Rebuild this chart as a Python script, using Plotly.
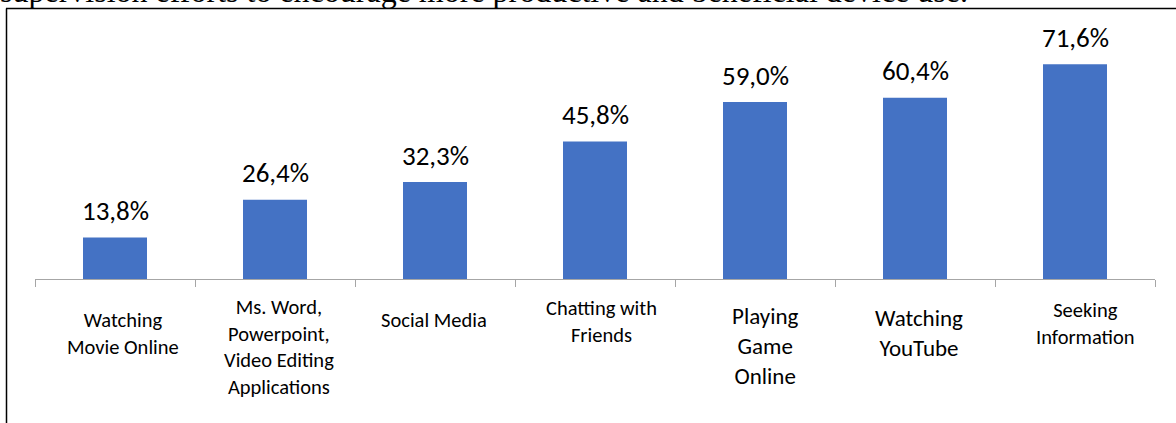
import plotly.graph_objects as go

# Activities and share of respondents (%)
categories = [
    "Watching<br>Movie Online",
    "Ms. Word,<br>Powerpoint,<br>Video Editing<br>Applications",
    "Social Media",
    "Chatting with<br>Friends",
    "Playing<br>Game<br>Online",
    "Watching<br>YouTube",
    "Seeking<br>Information",
]
values = [13.8, 26.4, 32.3, 45.8, 59.0, 60.4, 71.6]

# per-category label styling
label_sizes = [20.5, 20.5, 20.5, 20.5, 23, 23, 20.5]
label_centers_px = [333, 347, 320, 321, 346, 333, 323]
label_xshift_px = [7.5, 4, -1, 6, 10, 4, 10]

caption = "supervision efforts to encourage more productive and beneficial device use."

W, H = 1176, 423
FONT = "Calibri, Carlito, Lato, sans-serif"
BLUE = "#4472C4"

x_pos = list(range(len(categories)))

fig = go.Figure(
    go.Bar(
        x=x_pos,
        y=values,
        width=0.4,
        marker=dict(color=BLUE, line=dict(width=0)),
        hoverinfo="skip",
    )
)

# value labels above the bars
for xi, v in zip(x_pos, values):
    fig.add_annotation(
        x=xi, y=v, xref="x", yref="y",
        text=f"{v:.1f}%".replace(".", ","),
        showarrow=False, yanchor="middle", yshift=27,
        font=dict(family=FONT, size=27, color="#000000"),
    )

# category labels under the axis
for xi, lab, sz, cy, dx in zip(x_pos, categories, label_sizes, label_centers_px, label_xshift_px):
    fig.add_annotation(
        x=xi, y=(H - cy) / H, xref="x", yref="paper",
        text=lab, showarrow=False, yanchor="middle", xanchor="center",
        align="center", xshift=dx,
        font=dict(family=FONT, size=sz, color="#000000"),
    )

# running text of the page above the frame
fig.add_annotation(
    x=0, y=1, xref="paper", yref="paper",
    xanchor="left", yanchor="bottom", yshift=-11, xshift=-2,
    text=caption, showarrow=False,
    font=dict(family="Liberation Serif, Times New Roman, serif", size=32, color="#000000"),
)

# frame lines (top and left)
fig.add_shape(type="line", xref="paper", yref="paper",
              x0=6 / W, x1=1, y0=(H - 8.5) / H, y1=(H - 8.5) / H,
              line=dict(color="#000000", width=1.5))
fig.add_shape(type="line", xref="paper", yref="paper",
              x0=6.5 / W, x1=6.5 / W, y0=0, y1=(H - 8.5) / H,
              line=dict(color="#000000", width=1.5))

fig.update_layout(
    width=W, height=H,
    margin=dict(l=0, r=0, t=0, b=0),
    paper_bgcolor="white", plot_bgcolor="white",
    showlegend=False,
    xaxis=dict(
        domain=[35 / W, 1155 / W],
        range=[-0.5, len(categories) - 0.5],
        tickmode="array",
        tickvals=[i - 0.5 for i in range(len(categories) + 1)],
        ticktext=[""] * (len(categories) + 1),
        ticks="outside", ticklen=7, tickwidth=1, tickcolor="#A6A6A6",
        showline=True, linecolor="#A6A6A6", linewidth=1,
        showgrid=False, zeroline=False, fixedrange=True,
    ),
    yaxis=dict(
        domain=[(H - 279) / H, (H - 39) / H],
        range=[0, 80],
        visible=False, showgrid=False, zeroline=False, fixedrange=True,
    ),
)

fig.write_html("out.html")
